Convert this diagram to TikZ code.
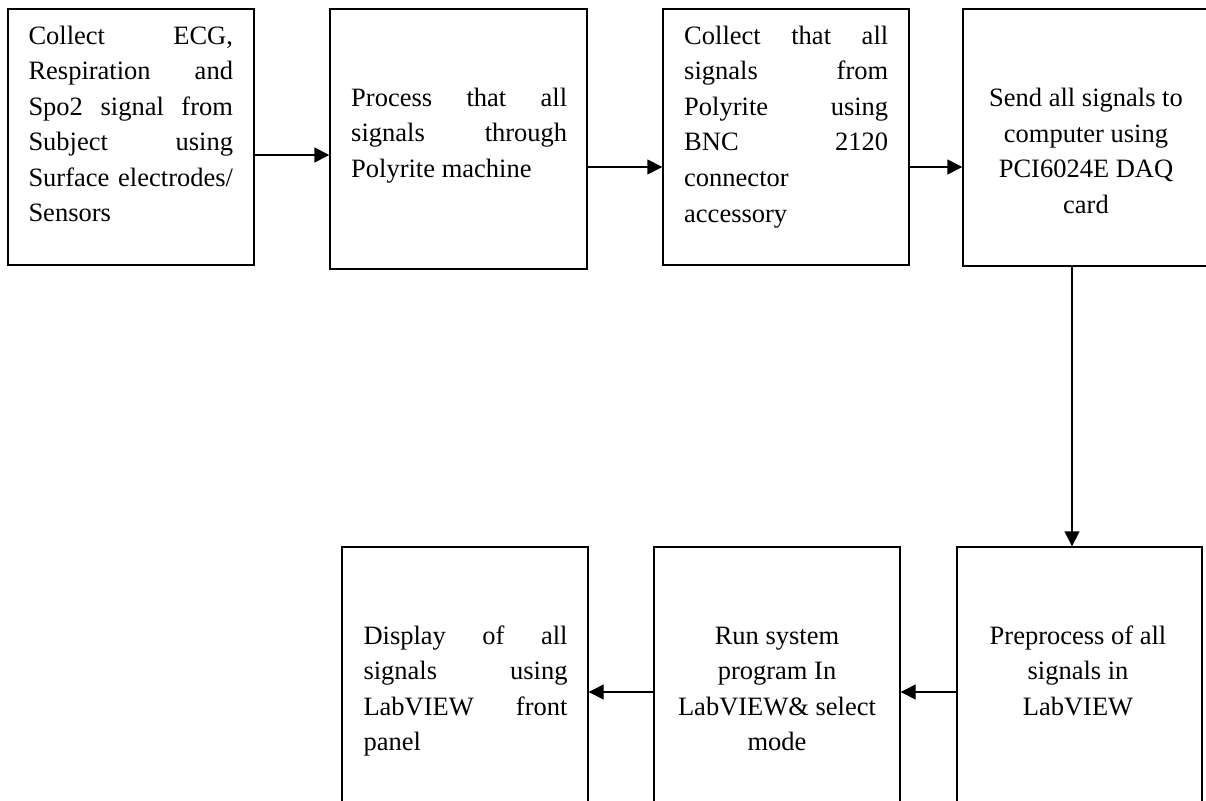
\documentclass[tikz,border=0pt]{standalone}
\usepackage{fontspec}
\setmainfont{Liberation Serif}
\usetikzlibrary{arrows.meta}
\newcommand{\fsz}{\fontsize{26.5pt}{35.5pt}\selectfont}
\begin{document}
\begin{tikzpicture}[x=1pt,y=-1pt,
  box/.style={draw,line width=1.4pt,rectangle,inner sep=0pt},
  txt/.style={inner sep=0pt,font=\fsz},
  arr/.style={line width=1.4pt,-{Triangle[length=15pt,width=15pt]}}]
\useasboundingbox (0,0) rectangle (1206,800);
\clip (0,0) rectangle (1206,800);
% boxes
\node[box,minimum width=246pt,minimum height=256pt] (b1) at (131,137) {};
\node[box,minimum width=257pt,minimum height=260pt] (b2) at (458.5,139) {};
\node[box,minimum width=246pt,minimum height=256pt] (b3) at (786,137) {};
\node[box,minimum width=246pt,minimum height=257pt] (b4) at (1086,137.5) {};
\node[box,minimum width=246pt,minimum height=263pt] (b5) at (465,678.5) {};
\node[box,minimum width=246pt,minimum height=263pt] (b6) at (777,678.5) {};
\node[box,minimum width=245pt,minimum height=263pt] (b7) at (1079.5,678.5) {};
% texts
\node[txt,anchor=base west] (t1) at (28.3,44.3) {\parbox[t]{204.5pt}{\fsz
Collect\hfill ECG,\\
Respiration\hfill and\\
Spo2\hfill signal\hfill from\\
Subject\hfill using\\
Surface\hfill electrodes/\\
Sensors}};
\node[txt,anchor=base west] (t2) at (351,106) {\parbox[t]{216pt}{\fsz
Process\hfill that\hfill all\\
signals\hfill through\\
Polyrite machine}};
\node[txt,anchor=base west] (t3) at (684,44.5) {\parbox[t]{204pt}{\fsz
Collect\hfill that\hfill all\\
signals\hfill from\\
Polyrite\hfill using\\
BNC\hfill 2120\\
connector\\
accessory}};
\node[txt,anchor=base] (t4) at (1086,106.7) {\parbox[t]{240pt}{\fsz\centering
Send all signals to\\
computer using\\
PCI6024E DAQ\\
card}};
\node[txt,anchor=base west] (t5) at (363.3,644) {\parbox[t]{204pt}{\fsz
Display\hfill of\hfill all\\
signals\hfill using\\
LabVIEW\hfill front\\
panel}};
\node[txt,anchor=base] (t6) at (777,644) {\parbox[t]{240pt}{\fsz\centering
Run system\\
program In\\
LabVIEW\& select\\
mode}};
\node[txt,anchor=base] (t7) at (1078,644) {\parbox[t]{240pt}{\fsz\centering
Preprocess of all\\
signals in\\
LabVIEW}};
% connector helper coordinates
\coordinate (r1) at (0,155);
\coordinate (r2) at (0,167);
\coordinate (r3) at (0,692);
\coordinate (c4) at (1072,0);
% connectors
\draw[arr] (b1.east |- r1) -- (b2.west |- r1);
\draw[arr] (b2.east |- r2) -- (b3.west |- r2);
\draw[arr] (b3.east |- r2) -- (b4.west |- r2);
\draw[arr] (b4.south -| c4) -- (b7.north -| c4);
\draw[arr] (b7.west |- r3) -- (b6.east |- r3);
\draw[arr] (b6.west |- r3) -- (b5.east |- r3);
\end{tikzpicture}
\end{document}
